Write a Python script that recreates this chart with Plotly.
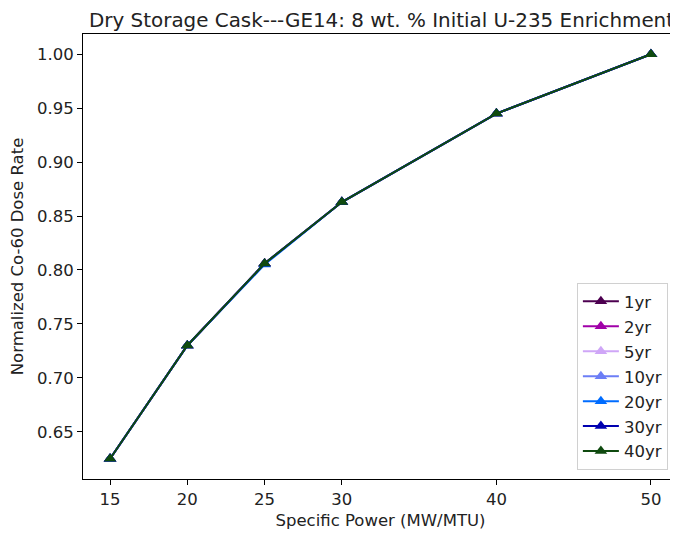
import plotly.graph_objects as go

power = [15, 20, 25, 30, 40, 50]
series_names = ["1yr", "2yr", "5yr", "10yr", "20yr", "30yr", "40yr"]
dose_1yr = [0.625, 0.730, 0.806, 0.863, 0.945, 1.000]
dose_2yr = [0.625, 0.730, 0.806, 0.863, 0.945, 1.000]
dose_5yr = [0.625, 0.730, 0.806, 0.863, 0.945, 1.000]
dose_10yr = [0.625, 0.730, 0.806, 0.863, 0.945, 1.000]
dose_20yr = [0.625, 0.730, 0.805, 0.863, 0.945, 1.000]
dose_30yr = [0.625, 0.730, 0.806, 0.863, 0.945, 1.000]
dose_40yr = [0.625, 0.730, 0.806, 0.863, 0.945, 1.000]
series_values = [dose_1yr, dose_2yr, dose_5yr, dose_10yr, dose_20yr, dose_30yr, dose_40yr]
colors = ["#4d0050", "#a000a8", "#cfa6f7", "#6c7ef6", "#006cff", "#0000b0", "#0f4a0f"]
x_ticks = [15, 20, 25, 30, 40, 50]
y_ticks = [0.65, 0.70, 0.75, 0.80, 0.85, 0.90, 0.95, 1.00]

fig = go.Figure()
for name, vals, c in zip(series_names, series_values, colors):
    fig.add_trace(go.Scatter(
        x=power, y=vals, name=name, mode="lines+markers",
        line=dict(color=c, width=2),
        marker=dict(symbol="triangle-up", size=11, color=c),
        legendgroup=name,
    ))

font = "DejaVu Sans"
fs = 16.5
# page body has an 8px default margin, so the figure is 8px smaller and offset
fig.update_layout(
    width=670, height=526,
    margin=dict(l=75, r=0, t=26, b=55),
    paper_bgcolor="white", plot_bgcolor="white",
    font=dict(family=font, size=fs, color="#222"),
    title=dict(text="Dry Storage Cask---GE14: 8 wt. % Initial U-235 Enrichment",
               x=0.5575, xanchor="center", y=0.978, yanchor="middle",
               font=dict(family=font, size=19.9, color="#222")),
    xaxis=dict(range=[13.25, 51.75], tickvals=x_ticks, ticktext=[str(t) for t in x_ticks],
               showgrid=False, zeroline=False, showline=True, linecolor="black", linewidth=1,
               mirror=True, ticks="outside", ticklen=5, tickcolor="black", automargin=False,
               tickfont=dict(size=fs),
               title=dict(text="Specific Power (MW/MTU)", font=dict(size=fs), standoff=6)),
    yaxis=dict(range=[0.60625, 1.01875], tickvals=y_ticks, ticktext=[f"{t:.2f}" for t in y_ticks],
               showgrid=False, zeroline=False, showline=True, linecolor="black", linewidth=1,
               mirror=True, ticks="outside", ticklen=5, tickcolor="black", automargin=False,
               tickfont=dict(size=fs),
               title=dict(text="Normalized Co-60 Dose Rate", font=dict(size=fs), standoff=9)),
    legend=dict(x=0.983, y=0.02, xanchor="right", yanchor="bottom",
                bgcolor="rgba(255,255,255,0.8)", bordercolor="#d0d0d0", borderwidth=1,
                font=dict(size=fs), tracegroupgap=0.5, traceorder="grouped", itemwidth=36),
    showlegend=True,
)
fig.write_html("out.html")
